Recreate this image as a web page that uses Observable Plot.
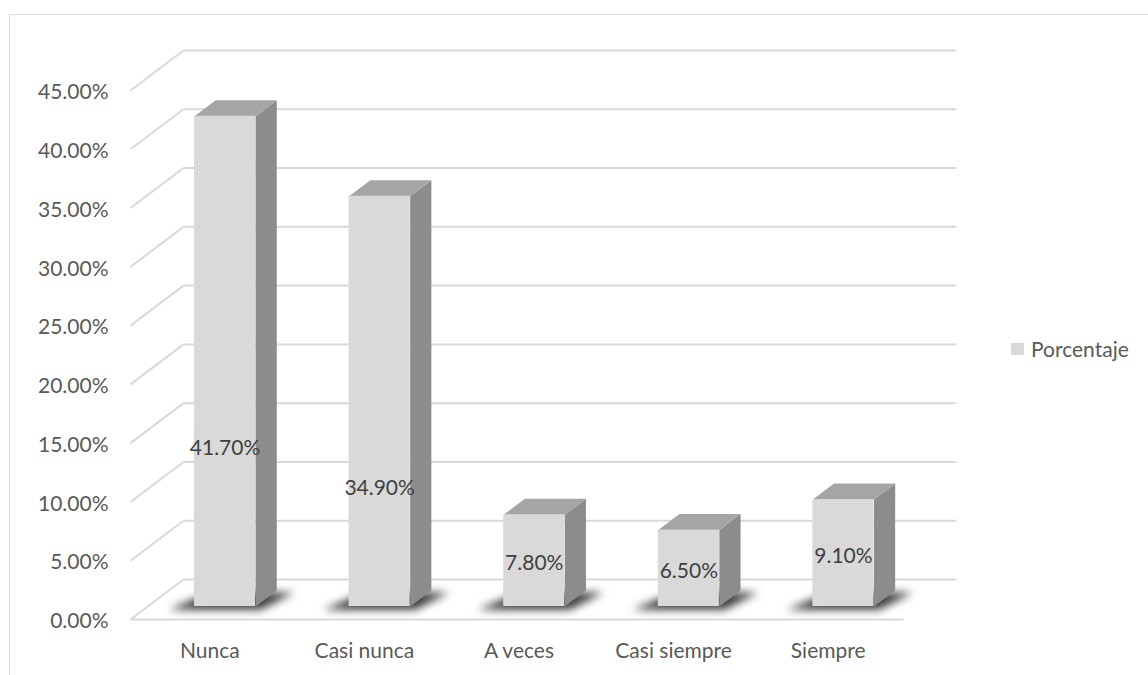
<!DOCTYPE html>
<html>
<head>
<meta charset="utf-8">
<script src="https://cdn.jsdelivr.net/npm/d3@7"></script>
<script src="https://cdn.jsdelivr.net/npm/@observablehq/plot@0.6"></script>
<style>
  html, body { margin: 0; padding: 0; background: #fff; overflow: hidden; width: 1148px; height: 675px; }
  #frame { position: absolute; left: 9px; top: 14px; width: 1200px; height: 800px; border: 1.5px solid #d9d9d9; box-sizing: border-box; }
  #chart { position: absolute; left: 0; top: 0; }
  #legend { position: absolute; left: 1011px; top: 336px; font: 21px Lato, sans-serif; color: #595959; display: flex; align-items: center; }
  #legend .sw { width: 13px; height: 12px; background: #d9d9d9; margin-right: 7px; }
</style>
</head>
<body>
<div id="frame"></div>
<div id="chart"></div>
<div id="legend"><span class="sw"></span><span id="legend-label"></span></div>
<script>
// Survey answers and their share of responses
const categories = ["Nunca", "Casi nunca", "A veces", "Casi siempre", "Siempre"];
const porcentaje = [41.7, 34.9, 7.8, 6.5, 9.1];
const yTicks = [0, 5, 10, 15, 20, 25, 30, 35, 40, 45];
const seriesName = "Porcentaje";

document.getElementById("legend-label").textContent = seriesName;

// Plot frame and pseudo-3D geometry
const W = 1148, H = 675;
const M = {top: 90, right: 245, bottom: 56, left: 130};
const yMax = 45;
const depthPx = [53, 40];              // offset of the back wall from the front edge (right, up)
const kx = (W - M.left - M.right) / categories.length;  // px per category
const ky = (H - M.top - M.bottom) / yMax;               // px per percentage point
// a point at depth t (0 = front edge, 1 = back wall) expressed in data units
const at = (x, y, t) => [x + t * depthPx[0] / kx, y + t * depthPx[1] / ky];

const barFront = 0.325, barBack = 0.725, barHalf = 0.1975;
// data labels of the two tallest columns sit lower on the face (px)
const labelDrop = {"Nunca": 84, "Casi nunca": 84};

// back wall gridlines and left wall diagonals
const backGrid = yTicks.map(v => {
  const [x1, y1] = at(0, v, 1), [x2, y2] = at(categories.length, v, 1);
  return {x1, y1, x2, y2};
});
const sideGrid = yTicks.map(v => {
  const [x1, y1] = at(0, v, 0), [x2, y2] = at(0, v, 1);
  return {x1, y1, x2, y2};
});
const floorEdge = (() => {
  const [x1, y1] = at(0, 0, 0), [x2, y2] = at(categories.length, 0, 0);
  return [{x1, y1, x2, y2}];
})();

// column faces
const fronts = [], sides = [], tops = [], shadows = [], labels = [];
categories.forEach((c, i) => {
  const v = porcentaje[i];
  const cx = i + 0.5, xl = cx - barHalf, xr = cx + barHalf;
  const [fx1, fy1] = at(xl, 0, barFront);
  const [fx2, fy2] = at(xr, v, barFront);
  fronts.push({x1: fx1, x2: fx2, y1: fy1, y2: fy2});
  [[xr, 0, barFront], [xr, 0, barBack], [xr, v, barBack], [xr, v, barFront]]
    .forEach(p => { const [x, y] = at(...p); sides.push({id: c, x, y}); });
  [[xl, v, barFront], [xr, v, barFront], [xr, v, barBack], [xl, v, barBack]]
    .forEach(p => { const [x, y] = at(...p); tops.push({id: c, x, y}); });
  [[xl - 0.14, 0, barFront - 0.08], [xr + 0.06, 0, barFront - 0.08],
   [xr + 0.13, 0, barBack - 0.05], [xl - 0.02, 0, barBack - 0.05]]
    .forEach(p => { const [x, y] = at(...p); shadows.push({id: c, x, y}); });
  const [lx, ly] = at(cx, v / 2, barFront);
  labels.push({x: lx, y: ly - ((labelDrop[c] || 0) + 3) / ky, text: v.toFixed(2) + "%"});
});

const chart = Plot.plot({
  width: W,
  height: H,
  marginTop: M.top,
  marginRight: M.right,
  marginBottom: M.bottom,
  marginLeft: M.left,
  x: {domain: [0, categories.length]},
  y: {domain: [0, yMax]},
  style: {fontFamily: "Lato, sans-serif", fontSize: "21px", color: "#595959", background: "transparent", overflow: "visible"},
  marks: [
    Plot.link(backGrid, {x1: "x1", y1: "y1", x2: "x2", y2: "y2", stroke: "#d9d9d9", strokeWidth: 2}),
    Plot.link(sideGrid, {x1: "x1", y1: "y1", x2: "x2", y2: "y2", stroke: "#d9d9d9", strokeWidth: 2}),
    Plot.link(floorEdge, {x1: "x1", y1: "y1", x2: "x2", y2: "y2", stroke: "#d9d9d9", strokeWidth: 2}),
    Plot.line(shadows, {x: "x", y: "y", z: "id", fill: "#1a1a1a", fillOpacity: 0.85, stroke: "none", imageFilter: "blur(4px)"}),
    Plot.line(sides, {x: "x", y: "y", z: "id", fill: "#8c8c8c", stroke: "none"}),
    Plot.line(tops, {x: "x", y: "y", z: "id", fill: "#a5a5a5", stroke: "none"}),
    Plot.rect(fronts, {x1: "x1", x2: "x2", y1: "y1", y2: "y2", fill: "#d9d9d9"}),
    Plot.text(labels, {x: "x", y: "y", text: "text", fill: "#404040", fontSize: 21}),
    Plot.axisY({ticks: yTicks, tickFormat: d => d.toFixed(2) + "%", tickSize: 0, tickPadding: 22, fontSize: 21, dy: 2}),
    Plot.axisX({ticks: categories.map((_, i) => i + 0.5), tickFormat: d => categories[Math.floor(d)], tickSize: 0, tickPadding: 24, fontSize: 21, dx: 2})
  ]
});
document.getElementById("chart").appendChild(chart);
</script>
</body>
</html>
